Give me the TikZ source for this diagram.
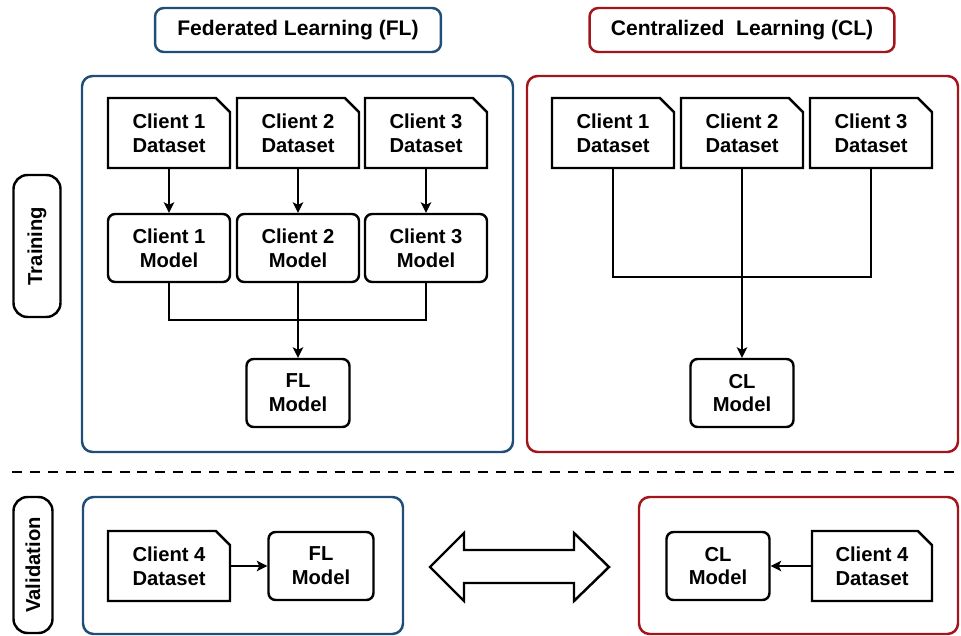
\documentclass[tikz,border=0pt]{standalone}
\usepackage{fontspec}
\setmainfont{Liberation Sans}
\usetikzlibrary{arrows.meta, shapes.misc, positioning}
\definecolor{flblue}{RGB}{31,78,121}
\definecolor{clred}{RGB}{163,21,26}

\begin{document}
\begin{tikzpicture}[x=0.02cm, y=-0.02cm,
  font=\fontsize{11.5}{13.6}\selectfont\bfseries,
  box/.style={draw, line width=1.4pt, align=center, inner sep=0pt},
  dataset/.style={box, chamfered rectangle, chamfered rectangle corners=north east,
    chamfered rectangle sep=0.14cm, minimum width=2.44cm, minimum height=1.4cm},
  model/.style={box, rounded corners=4pt, minimum width=2.44cm, minimum height=1.36cm},
  frame/.style={line width=1.4pt, rounded corners=6pt},
  title/.style={draw=#1, line width=1.4pt, rounded corners=5pt, minimum height=0.88cm,
    font=\fontsize{12}{14}\selectfont\bfseries},
  phase/.style={draw, line width=1.4pt, rounded corners=8pt, rotate=90},
  link/.style={line width=0.9pt},
  arrow/.style={link, -{Stealth[length=6pt, width=6pt, inset=1.5pt]}}]
  \useasboundingbox (0,0) rectangle (961,636);

  \draw[frame, flblue] (82,76) rectangle (513,452);
  \draw[frame, clred] (527,76) rectangle (958,452);
  \draw[frame, flblue] (83,497) rectangle (403,634);
  \draw[frame, clred] (639,497) rectangle (958,634);

  \node[title=flblue, minimum width=5.72cm] (fltitle) at (298,30) {Federated Learning (FL)};
  \node[title=clred, minimum width=6.1cm] (cltitle) at (742,30) {Centralized\ \ Learning (CL)};

  \node[phase, minimum width=2.84cm, minimum height=0.94cm] (training) at (37,246) {Training};
  \node[phase, minimum width=2.72cm, minimum height=0.78cm] (validation) at (33,565) {Validation};

  \foreach \i/\x in {1/169, 2/298, 3/426} {
    \node[dataset] (fld\i) at (\x,133) {Client \i\\Dataset};
    \node[model] (flm\i) at (\x,248) {Client \i\\Model};
    \draw[arrow] (fld\i) -- (flm\i);
  }
  \node[model, minimum width=2.06cm] (flmodel) at (298,393) {FL\\Model};
  \coordinate (fljoin) at (298,320);
  \draw[link] (flm1) |- (fljoin) -| (flm3);
  \draw[arrow] (flm2) -- (flmodel);

  \foreach \i/\x in {1/613, 2/742, 3/871}
    \node[dataset] (cld\i) at (\x,133) {Client \i\\Dataset};
  \node[model, minimum width=2.06cm] (clmodel) at (742,393) {CL\\Model};
  \coordinate (cljoin) at (742,277);
  \draw[link] (cld1) |- (cljoin) -| (cld3);
  \draw[arrow] (cld2) -- (clmodel);

  \coordinate (dashl) at (12,472);
  \coordinate (dashr) at (958,472);
  \draw[line width=1.4pt, dash pattern=on 5.7pt off 4.5pt] (dashl) -- (dashr);

  \node[dataset] (vfld) at (169,566) {Client 4\\Dataset};
  \node[model, minimum width=2.1cm] (vflm) at (321,566) {FL\\Model};
  \draw[arrow] (vfld) -- (vflm);
  \node[model, minimum width=2.06cm] (vclm) at (718,566) {CL\\Model};
  \node[dataset, minimum width=2.4cm] (vcld) at (872,566) {Client 4\\Dataset};
  \draw[arrow] (vcld) -- (vclm);

  \draw[line width=1.4pt, line join=miter]
    (430,567) -- (464,533) -- (464,550) -- (574,550) -- (574,533) -- (609,567)
    -- (574,601) -- (574,583) -- (464,583) -- (464,601) -- cycle;
\end{tikzpicture}
\end{document}
